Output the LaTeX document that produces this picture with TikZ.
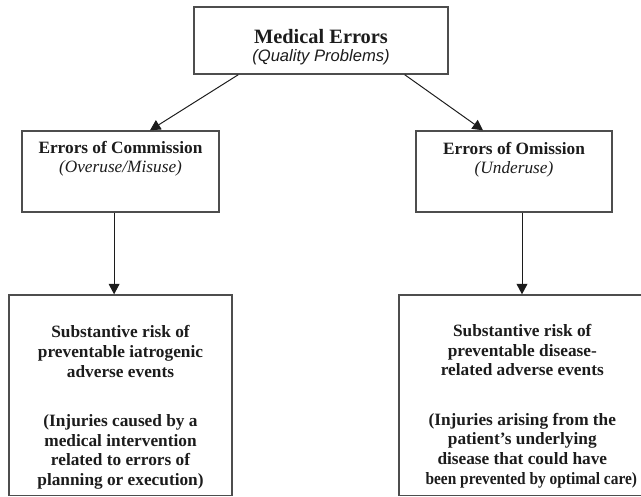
\documentclass[tikz,border=0pt]{standalone}
\usepackage{graphicx}
\usepackage{fontspec}
\setmainfont{Liberation Serif}
\newfontfamily\arialfont{Liberation Sans}
\usepackage{tikz}
\usetikzlibrary{positioning, arrows.meta}
\definecolor{boxgray}{HTML}{4D4D4D}
\definecolor{inkdark}{HTML}{1C1C1C}

\begin{document}
\begin{tikzpicture}[x=1cm, y=1cm,
  errbox/.style={draw=boxgray, line width=1pt, rectangle, inner sep=0pt},
  boxtext/.style={text=inkdark, align=center, inner sep=0pt},
  arr/.style={draw=inkdark, line width=0.7pt, -{Triangle[length=0.26cm, width=0.27cm]}}]
% page of 641 x 496 px, one px = 0.025cm
\useasboundingbox (0,0) rectangle (16.025,12.4);
\clip (0,0) rectangle (16.025,12.4);
\node[errbox, minimum width=6.35cm, minimum height=1.675cm] (med) at (8.025,11.3875) {};
\node[errbox, minimum width=4.925cm, minimum height=2.025cm] (comm) at (3.0125,8.1125) {};
\node[errbox, minimum width=4.9cm, minimum height=2.025cm] (omis) at (12.85,8.1125) {};
\node[errbox, minimum width=5.575cm, minimum height=5.015cm] (iatro) at (3.0125,2.5175) {};
\node[errbox, minimum width=6.325cm, minimum height=5.015cm] (disease) at (13.1375,2.5175) {};
\node[boxtext, font=\fontsize{14.5}{16}\selectfont\bfseries] (medtitle) at ([yshift=0.09cm]med.center) {Medical Errors};
\node[boxtext, font=\fontsize{11.8}{14}\selectfont\arialfont\itshape] (medsub) at ([yshift=-0.41cm]med.center) {(Quality Problems)};
\node[boxtext, font=\fontsize{12.3}{14}\selectfont\bfseries] (commtitle) at ([yshift=0.59cm]comm.center) {Errors of Commission};
\node[boxtext, font=\fontsize{12.3}{14}\selectfont\itshape] (commsub) at ([yshift=0.09cm]comm.center) {(Overuse/Misuse)};
\node[boxtext, font=\fontsize{12.3}{14}\selectfont\bfseries] (omistitle) at ([yshift=0.57cm]omis.center) {Errors of Omission};
\node[boxtext, font=\fontsize{12.3}{14}\selectfont\itshape] (omissub) at ([yshift=0.05cm]omis.center) {(Underuse)};
\node[boxtext, font=\fontsize{12.3}{14}\selectfont\bfseries] (iatrotxt) at ([yshift=-0.305cm]iatro.center)
  {Substantive risk of\\preventable iatrogenic\\adverse events\\[21pt](Injuries caused by a\\medical intervention\\related to errors of\\planning or execution)};
\node[boxtext, font=\fontsize{12.3}{14}\selectfont\bfseries] (diseasetxt) at ([xshift=-0.08cm, yshift=-0.27cm]disease.center)
  {Substantive risk of\\preventable disease-\\related adverse events\\[21pt](Injuries arising from the\\patient's underlying\\disease that could have\\\makebox[0pt]{\hspace{0.45cm}\scalebox{0.89}[1]{been prevented by optimal care)}}};
\draw[arr] ([xshift=1.125cm]med.south west) -- ([xshift=0.7375cm]comm.north);
\draw[arr] ([xshift=-1.1cm]med.south east) -- ([xshift=-0.775cm]omis.north);
\draw[arr] ([xshift=-0.16cm]comm.south) -- ([xshift=-0.16cm]comm.south |- iatro.north);
\draw[arr] ([xshift=0.2cm]omis.south) -- ([xshift=0.2cm]omis.south |- disease.north);
\end{tikzpicture}
\end{document}
